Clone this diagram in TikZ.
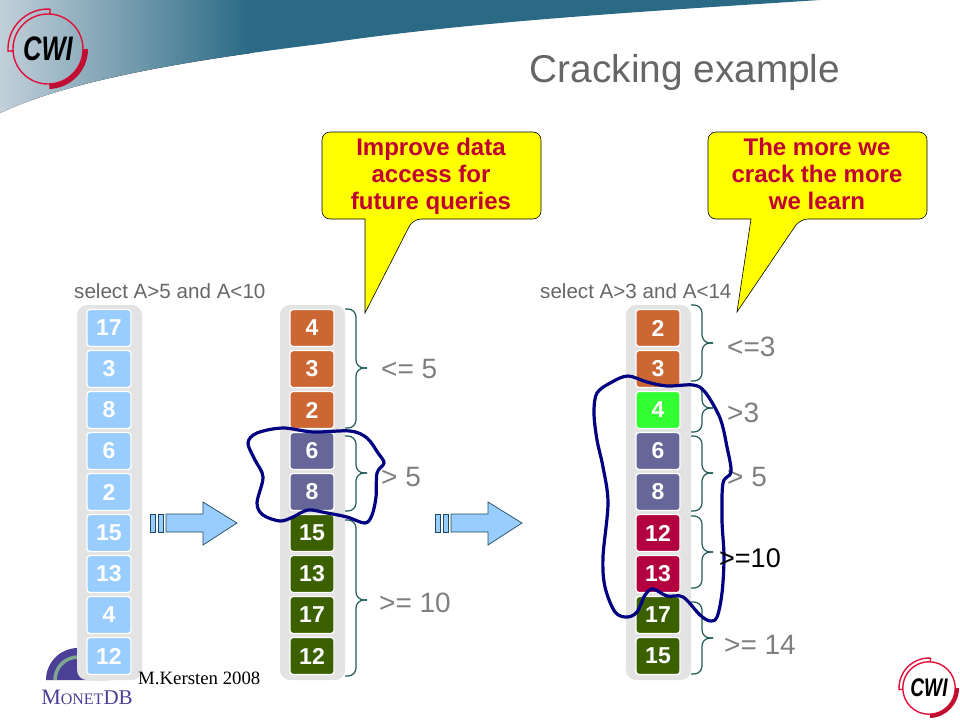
\documentclass[tikz,border=0pt]{standalone}
\usepackage{fontspec}
\setmainfont{Liberation Sans}
\newfontfamily\serifface{Liberation Serif}
\usetikzlibrary{calc}
\definecolor{headteal}{HTML}{2A6A85}
\definecolor{headpale}{HTML}{C2D0DA}
\definecolor{inkgray}{HTML}{666666}
\definecolor{labgray}{HTML}{7F7F7F}
\definecolor{barbg}{HTML}{E3E3E3}
\definecolor{cellblue}{HTML}{99CCFF}
\definecolor{cellorange}{HTML}{CC6633}
\definecolor{cellpurple}{HTML}{666699}
\definecolor{cellgreen}{HTML}{3B6000}
\definecolor{cellcrimson}{HTML}{B3003F}
\definecolor{celllime}{HTML}{33FF33}
\definecolor{bracegreen}{HTML}{1F5A55}
\definecolor{loopnavy}{HTML}{000080}
\definecolor{bubbleyellow}{HTML}{FFFF00}
\definecolor{bubbletext}{HTML}{C00033}
\definecolor{logored}{HTML}{E0103A}
\definecolor{monetpurple}{HTML}{4B3F96}
\definecolor{monetring}{HTML}{7FA890}

\begin{document}
\begin{tikzpicture}[
    x=1pt, y=-1pt,
    colbar/.style={fill=barbg, rounded corners=10pt, minimum width=65pt,
                   minimum height=375pt, inner sep=0pt},
    cell/.style={draw=white, line width=1.3pt, rounded corners=3pt, minimum width=44pt,
                 minimum height=37pt, inner sep=0pt, text=white,
                 font=\fontsize{23}{24}\selectfont\bfseries},
    bracket/.style={rounded corners=8pt, bracegreen, line width=1.2pt},
    lab/.style={font=\fontsize{28}{30}\selectfont, text=labgray, inner sep=0pt},
    query/.style={font=\fontsize{20.6}{22}\selectfont, text=inkgray, inner sep=0pt},
    bubble/.style={draw=black, fill=bubbleyellow, line width=0.6pt},
    bubblelab/.style={font=\fontsize{24}{27}\selectfont\bfseries, text=bubbletext,
                      align=center, inner sep=0pt},
    handloop/.style={loopnavy, line width=3.2pt, line join=round},
    blockarrow/.style={fill=cellblue, draw=headteal!70!black, line width=0.7pt},
]
\useasboundingbox (0,0) rectangle (960,720);

% header band
\begin{scope}
\clip (0,0) -- (820,0) .. controls (620,13) and (470,22) .. (320,44)
    .. controls (190,60) and (70,80) .. (0,113) -- cycle;
\fill[left color=headpale, right color=headteal] (0,0) rectangle (250,120);
\fill[headteal] (249,0) rectangle (820,120);
\end{scope}
\node[font=\fontsize{38.8}{40}\selectfont, text=inkgray, inner sep=0pt] (title) at (685,72) {Cracking example};

% logos, top left and bottom right
\foreach \cx/\cy/\sc [count=\n] in {48/49/1, 929/688/0.75} {
\begin{scope}[shift={(\cx,\cy)}, scale=\sc, y=1pt]
    \draw[logored, line width=1.4pt] (0,0) circle (35pt);
    \fill[logored!85!black] (0:40pt) arc (0:-88:40pt) -- (-88:35pt) arc (-88:0:35pt) -- cycle;
    \draw[logored, line width=1.4pt] (87:40pt) arc (87:183:40pt) -- (183:35pt);
    \draw[logored, line width=1.4pt] (87:40pt) -- (87:35pt);
    \node[transform shape, inner sep=0pt] (cwi\n) at (0,0)
        {\scalebox{0.75}[1]{\fontsize{34}{36}\selectfont\bfseries\itshape CWI}};
\end{scope}
}

% monetdb logo, partly hidden by the first column
\begin{scope}[shift={(78,680)}, y=1pt]
    \fill[monetpurple] (180:32pt) arc (180:0:32pt) -- cycle;
    \draw[monetring, line width=3.5pt] (180:23pt) arc (180:0:23pt);
\end{scope}
\node[text=monetpurple, inner sep=0pt] (monet) at (87,697)
    {\serifface\fontsize{22}{24}\selectfont M\fontsize{16}{24}\selectfont ONET\fontsize{21}{24}\selectfont DB};

% the three columns
\node[colbar] (bara) at (109.5,492.5) {};
\node[colbar] (barb) at (312.5,492.5) {};
\node[colbar] (barc) at (658.5,492.5) {};

\foreach \v [count=\n] in {17,3,8,6,2,15,13,4,12} {
    \node[cell, fill=cellblue] (a\n) at (109,287+\n*41) {\v};
}
\foreach \v/\c [count=\n] in {4/cellorange,3/cellorange,2/cellorange,6/cellpurple,8/cellpurple,
                              15/cellgreen,13/cellgreen,17/cellgreen,12/cellgreen} {
    \node[cell, fill=\c] (b\n) at (312,287+\n*41) {\v};
}
\foreach \v/\c [count=\n] in {2/cellorange,3/cellorange,4/celllime,6/cellpurple,8/cellpurple,
                              12/cellcrimson,13/cellcrimson,17/cellgreen,15/cellgreen} {
    \node[cell, fill=\c] (c\n) at (658,287+\n*41) {\v};
}

\node[font=\serifface\fontsize{18.8}{20}\selectfont, anchor=west, inner sep=0pt] (author) at (138,678) {M.Kersten 2008};
\node[query, anchor=west] (querya) at (74,291) {select A>5 and A<10};
\node[query, anchor=west] (queryb) at (540,291) {select A>3 and A<14};

% braces
\foreach \name/\bx/\ya/\ty/\yb in {ba/345/309/368/428, bb/345/436/473/511, bc/345/520/600/676,
    ca/691/305/343/381, cb/691/385/408/432, cc/691/436/473/511, cd/691/516/552/588, ce/691/602/638/674} {
    \coordinate (top\name) at (\bx,\ya);
    \coordinate (bot\name) at (\bx,\yb);
    \coordinate (tip\name) at (\bx+22,\ty);
    \draw[bracket] (top\name) -- ++(11,0) |- (tip\name);
    \draw[bracket] (bot\name) -- ++(11,0) |- (tip\name);
}

% block arrows
\foreach \sx [count=\n] in {150,435} {
\begin{scope}[shift={(\sx,523)}]
    \draw[blockarrow] (0,-9) rectangle (5,9);
    \draw[blockarrow] (8,-9) rectangle (13,9);
    \draw[blockarrow] (16,-9) -- (53,-9) -- (53,-21) -- (87,0) -- (53,22) -- (53,9) -- (16,9) -- cycle;
\end{scope}
}

% callouts
\draw[bubble, rounded corners=8pt] (322,175) |- (541,132) |- (413,219)
    [sharp corners] -- (365,313) -- (365,219)
    [rounded corners=8pt] -| (322,175) -- cycle;
\node[bubblelab] (bubblea) at (431,176) {Improve data\\access for\\future queries};
\draw[bubble, rounded corners=8pt] (708,175) |- (927,132) |- (800,219)
    [sharp corners] -- (737,312) -- (751,219)
    [rounded corners=8pt] -| (708,175) -- cycle;
\node[bubblelab] (bubbleb) at (817,174) {The more we\\crack the more\\we learn};

% labels
\node[lab, anchor=west] (leqa) at (381,369) {<= 5};
\node[lab, anchor=west] (gta) at (381,477) {> 5};
\node[lab, anchor=west] (geqa) at (379,603) {>= 10};
\node[lab, anchor=west] (leqb) at (727,347) {<=3};
\node[lab, anchor=west] (gtb) at (727,413) {>3};
\node[lab, anchor=west] (gtc) at (727,477) {> 5};
\node[lab, anchor=west] (geqc) at (724,645) {>= 14};

% hand drawn loops
\draw[handloop] plot[smooth cycle, tension=0.55] coordinates {(248,443) (257,433) (283,428)
    (313,432) (350,431) (367,438) (378,453) (384,463) (377,473) (376,497) (372,515) (365,523)
    (347,517) (327,513) (308,510) (293,517) (280,521) (263,515) (257,503) (263,477) (255,460)};
\draw[handloop] plot[smooth cycle, tension=0.55] coordinates {(594,413) (597,393) (612,382)
    (628,376) (647,382) (667,386) (693,385) (705,392) (720,418) (727,447) (731,472) (723,483)
    (722,520) (724,557) (722,593) (717,617) (710,621) (700,615) (683,597) (667,596) (653,589)
    (645,595) (637,612) (627,617) (615,612) (605,587) (603,557) (608,503) (603,467) (597,440)};

\node[lab, anchor=west, text=black, font=\fontsize{27}{30}\selectfont] (geqb) at (719,558) {>=10};
\end{tikzpicture}
\end{document}
